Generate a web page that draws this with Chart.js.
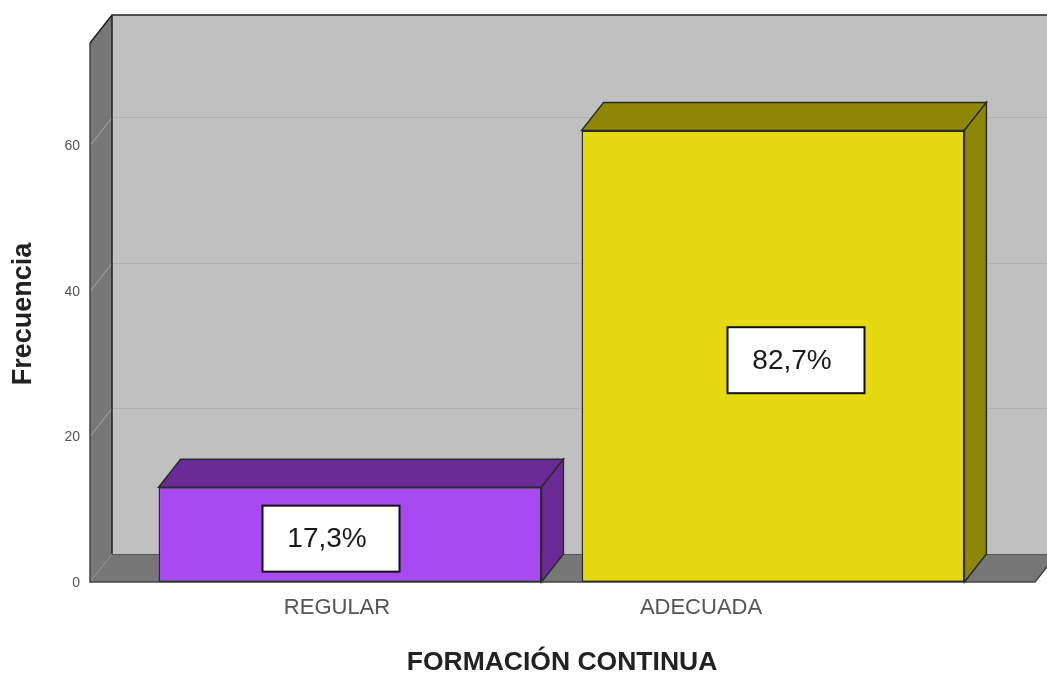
<!DOCTYPE html>
<html>
<head>
<meta charset="utf-8">
<script src="https://cdn.jsdelivr.net/npm/chart.js@4/dist/chart.umd.min.js"></script>
<style>
html,body{margin:0;padding:0;background:#fff;}
#wrap{width:1047px;height:675px;position:relative;}
</style>
</head>
<body>
<div id="wrap"><canvas id="c" width="1047" height="675"></canvas></div>
<script>
const categories = ['REGULAR', 'ADECUADA'];
const frecuencia = [13, 62];
const yTickValues = [0, 20, 40, 60];
const xTitle = 'FORMACIÓN CONTINUA';
const yTitle = 'Frecuencia';

const frontColors = ['#a74af2', '#e4d80f'];
const darkColors = ['#6a2b96', '#8e8607'];

const total = frecuencia.reduce((a, b) => a + b, 0);

const DX = 22, DY = -28;

const threeD = {
  id: 'threeD',
  beforeDatasetsDraw(chart) {
    const ctx = chart.ctx, ca = chart.chartArea;
    const ys = chart.scales.y;
    const fl = ca.left - 48.5, fr = ca.right + 50.5;
    const y0 = ys.getPixelForValue(0), yt = ys.getPixelForValue(ys.max);
    ctx.save();
    ctx.fillStyle = '#c0c0c0';
    ctx.fillRect(fl + DX, yt + DY, fr - fl + 30, y0 - yt);
    ctx.fillStyle = '#777777';
    ctx.beginPath();
    ctx.moveTo(fl, yt); ctx.lineTo(fl + DX, yt + DY); ctx.lineTo(fl + DX, y0 + DY); ctx.lineTo(fl, y0); ctx.closePath();
    ctx.fill();
    ctx.beginPath();
    ctx.moveTo(fl, y0); ctx.lineTo(fl + DX, y0 + DY); ctx.lineTo(fr + DX, y0 + DY); ctx.lineTo(fr, y0); ctx.closePath();
    ctx.fill();
    ctx.lineWidth = 1;
    yTickValues.forEach(v => {
      if (v === 0) return;
      const y = Math.round(ys.getPixelForValue(v)) + 0.5;
      ctx.strokeStyle = '#b2b2b2';
      ctx.beginPath(); ctx.moveTo(fl + DX, y + DY); ctx.lineTo(fr + DX + 30, y + DY); ctx.stroke();
      ctx.strokeStyle = '#a8a8a8';
      ctx.beginPath(); ctx.moveTo(fl, y); ctx.lineTo(fl + DX, y + DY); ctx.stroke();
    });
    ctx.strokeStyle = '#222';
    ctx.lineWidth = 1.5;
    ctx.beginPath();
    ctx.moveTo(fl, yt); ctx.lineTo(fl + DX, yt + DY); ctx.lineTo(fr + DX + 30, yt + DY);
    ctx.moveTo(fl + DX, yt + DY); ctx.lineTo(fl + DX, y0 + DY);
    ctx.stroke();
    ctx.strokeStyle = '#555';
    ctx.lineWidth = 1;
    ctx.beginPath();
    ctx.moveTo(fl + DX, y0 + DY + 0.5); ctx.lineTo(fr + DX + 30, y0 + DY + 0.5);
    ctx.stroke();
    ctx.strokeStyle = '#444';
    ctx.lineWidth = 1.5;
    ctx.beginPath();
    ctx.moveTo(fl, yt); ctx.lineTo(fl, y0); ctx.lineTo(fr, y0); ctx.lineTo(fr + DX, y0 + DY);
    ctx.stroke();

    const meta = chart.getDatasetMeta(0);
    meta.data.forEach((el, i) => {
      const p = el.getProps(['x', 'y', 'base', 'width'], true);
      const x1 = p.x - p.width / 2, x2 = p.x + p.width / 2;
      ctx.fillStyle = darkColors[i];
      ctx.strokeStyle = '#2a2a2a';
      ctx.lineWidth = 1.5;
      ctx.beginPath();
      ctx.moveTo(x1, p.y); ctx.lineTo(x1 + DX, p.y + DY); ctx.lineTo(x2 + DX, p.y + DY); ctx.lineTo(x2, p.y); ctx.closePath();
      ctx.fill(); ctx.stroke();
      ctx.beginPath();
      ctx.moveTo(x2, p.y); ctx.lineTo(x2 + DX, p.y + DY); ctx.lineTo(x2 + DX, p.base + DY); ctx.lineTo(x2, p.base); ctx.closePath();
      ctx.fill(); ctx.stroke();
    });
    ctx.restore();
  },
  afterDatasetsDraw(chart) {
    const ctx = chart.ctx, ca = chart.chartArea;
    const ys = chart.scales.y, xs = chart.scales.x;
    const opts = chart.options.plugins.threeD;
    const fl = ca.left - 48.5;
    ctx.save();
    const meta = chart.getDatasetMeta(0);
    meta.data.forEach((el, i) => {
      const p = el.getProps(['x', 'y', 'base', 'width'], true);
      const cx = p.x + opts.boxShift[i], cy = (p.y + p.base) / 2 + 4;
      const w = 137, h = 66;
      ctx.fillStyle = '#fff';
      ctx.fillRect(cx - w / 2, cy - h / 2, w, h);
      ctx.strokeStyle = '#111';
      ctx.lineWidth = 2;
      ctx.strokeRect(cx - w / 2, cy - h / 2, w, h);
      const pct = (frecuencia[i] / total * 100).toFixed(1).replace('.', ',') + '%';
      ctx.fillStyle = '#1a1a1a';
      ctx.font = '28px "Liberation Sans", Arial, sans-serif';
      ctx.textAlign = 'center';
      ctx.textBaseline = 'middle';
      ctx.fillText(pct, cx - 4, cy + 1);
    });
    ctx.fillStyle = '#555';
    ctx.font = '14px "Liberation Sans", Arial, sans-serif';
    ctx.textAlign = 'right';
    ctx.textBaseline = 'middle';
    yTickValues.forEach(v => {
      ctx.fillText(String(v), fl - 10, ys.getPixelForValue(v) + 1);
    });
    ctx.font = '22px "Liberation Sans", Arial, sans-serif';
    ctx.textAlign = 'center';
    categories.forEach((c, i) => {
      ctx.fillText(c, xs.getPixelForValue(i) + opts.labelShift[i], ys.getPixelForValue(0) + 26);
    });
    ctx.fillStyle = '#222';
    ctx.font = 'bold 26.5px "Liberation Sans", Arial, sans-serif';
    ctx.fillText(xTitle, 562, 663);
    ctx.font = 'bold 27px "Liberation Sans", Arial, sans-serif';
    ctx.translate(24, 314);
    ctx.rotate(-Math.PI / 2);
    ctx.fillText(yTitle, 0, 0);
    ctx.restore();
  }
};

new Chart(document.getElementById('c'), {
  type: 'bar',
  data: {
    labels: categories,
    datasets: [{
      data: frecuencia,
      backgroundColor: frontColors,
      borderColor: '#2a2a2a',
      borderWidth: 1.5,
      borderSkipped: false,
      categoryPercentage: 1,
      barPercentage: 0.905
    }]
  },
  options: {
    responsive: false,
    animation: false,
    devicePixelRatio: 1,
    layout: { padding: { left: 138.5, right: 62.5, top: 43, bottom: 93 } },
    plugins: {
      legend: { display: false },
      tooltip: { enabled: false },
      threeD: { labelShift: [-13, -72], boxShift: [-19, 23] }
    },
    scales: {
      x: { display: false, offset: true },
      y: { display: false, min: 0, max: 74, ticks: { stepSize: 20 } }
    }
  },
  plugins: [threeD]
});
</script>
</body>
</html>
